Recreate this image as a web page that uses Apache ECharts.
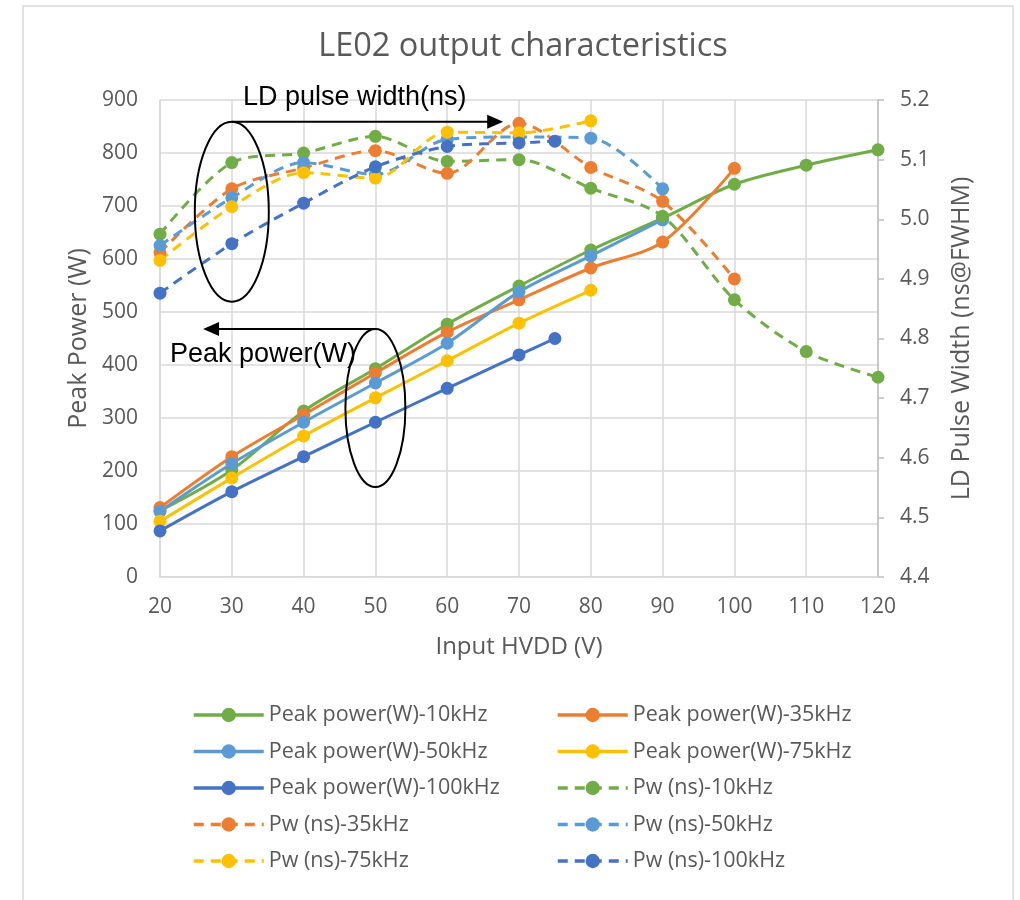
<!DOCTYPE html>
<html>
<head>
<meta charset="utf-8">
<script src="https://cdn.jsdelivr.net/npm/echarts@6/dist/echarts.min.js"></script>
<style>
  html, body { margin: 0; padding: 0; background: #fff; }
  #main { width: 1020px; height: 900px; }
</style>
</head>
<body>
<div id="main"></div>
<script>
// input voltage (V)
const hvdd = [20, 30, 40, 50, 60, 70, 80, 90, 100, 110, 120];
const hvdd100k = [20, 30, 40, 50, 60, 70, 75];

// peak power (W), left axis
const pp10k = [125, 202, 313, 393, 477, 549, 617, 677, 741, 777, 806];
const pp35k = [131, 227, 306, 385, 462, 523, 583, 632, 771];
const pp50k = [124, 214, 292, 366, 441, 538, 606, 674];
const pp75k = [105, 187, 266, 338, 408, 479, 541];
const pp100k = [87, 161, 227, 292, 356, 419, 450];

// pulse width (ns@FWHM), right axis
const pw10k = [4.975, 5.095, 5.111, 5.139, 5.097, 5.100, 5.052, 5.005, 4.865, 4.778, 4.735];
const pw35k = [4.944, 5.051, 5.086, 5.115, 5.077, 5.161, 5.087, 5.030, 4.900];
const pw50k = [4.956, 5.036, 5.095, 5.075, 5.134, 5.138, 5.136, 5.051];
const pw75k = [4.931, 5.021, 5.078, 5.069, 5.146, 5.145, 5.165];
const pw100k = [4.876, 4.959, 5.027, 5.088, 5.122, 5.128, 5.131];

const leftTicks = [0, 900, 100];
const rightTicks = [4.4, 5.2, 0.1];

const GREEN = '#70AD47', ORANGE = '#ED7D31', LBLUE = '#5B9BD5', YELLOW = '#FFC000', DBLUE = '#4472C4';
const FONT = '"Open Sans", sans-serif';
const GREY = '#595959';

function pairs (xs, ys) {
  return ys.map((v, i) => [xs[i], v])
}

function mk (name, xs, ys, color, dashed) {
  return {
    name: name,
    type: 'line',
    yAxisIndex: dashed ? 1 : 0,
    smooth: 0.3,
    symbol: 'circle',
    symbolSize: 13,
    data: pairs(xs, ys),
    lineStyle: { width: 3, color: color, type: dashed ? [10, 7] : 'solid' },
    itemStyle: { color: color },
    emphasis: { disabled: true }
  }
}

const series = [
  mk('Peak power(W)-10kHz', hvdd, pp10k, GREEN, false),
  mk('Peak power(W)-35kHz', hvdd, pp35k, ORANGE, false),
  mk('Peak power(W)-50kHz', hvdd, pp50k, LBLUE, false),
  mk('Peak power(W)-75kHz', hvdd, pp75k, YELLOW, false),
  mk('Peak power(W)-100kHz', hvdd100k, pp100k, DBLUE, false),
  mk('Pw (ns)-10kHz', hvdd, pw10k, GREEN, true),
  mk('Pw (ns)-35kHz', hvdd, pw35k, ORANGE, true),
  mk('Pw (ns)-50kHz', hvdd, pw50k, LBLUE, true),
  mk('Pw (ns)-75kHz', hvdd, pw75k, YELLOW, true),
  mk('Pw (ns)-100kHz', hvdd100k, pw100k, DBLUE, true)
];

const names = series.map(s => s.name);
const legendBase = {
  orient: 'vertical',
  top: 699,
  itemWidth: 70,
  itemHeight: 18,
  itemGap: 14.5,
  lineStyle: { width: 3.5 },
  textStyle: { fontFamily: FONT, fontSize: 21.5, color: GREY },
  selectedMode: false
};

const chart = echarts.init(document.getElementById('main'));
chart.setOption({
  backgroundColor: '#fff',
  animation: false,
  title: {
    text: 'LE02 output characteristics',
    left: 518,
    textAlign: 'center',
    top: 25,
    textStyle: { fontFamily: FONT, fontSize: 32.5, fontWeight: 'normal', color: GREY }
  },
  legend: [
    Object.assign({ left: 187, data: names.filter((n, i) => i % 2 === 0) }, legendBase),
    Object.assign({ left: 551, data: names.filter((n, i) => i % 2 === 1) }, legendBase)
  ],
  grid: { left: 160, right: 142, top: 100, bottom: 323 },
  xAxis: {
    type: 'value',
    min: 20,
    max: 120,
    interval: 10,
    name: 'Input HVDD (V)',
    nameLocation: 'middle',
    nameGap: 58,
    nameTextStyle: { fontFamily: FONT, fontSize: 24, color: GREY },
    axisLine: { lineStyle: { color: '#d9d9d9', width: 1.5 } },
    axisTick: { show: false },
    axisLabel: { margin: 20, fontFamily: FONT, fontSize: 21, color: GREY },
    splitLine: { show: true, lineStyle: { color: '#d9d9d9', width: 1.5 } }
  },
  yAxis: [{
    type: 'value',
    min: leftTicks[0],
    max: leftTicks[1],
    interval: leftTicks[2],
    name: 'Peak Power (W)',
    nameLocation: 'middle',
    nameGap: 69,
    nameTextStyle: { fontFamily: FONT, fontSize: 25, color: GREY },
    axisLine: { show: true, lineStyle: { color: '#d9d9d9', width: 1.5 } },
    axisTick: { show: false },
    axisLabel: { margin: 22, fontFamily: FONT, fontSize: 21, color: GREY },
    splitLine: { show: true, lineStyle: { color: '#d9d9d9', width: 1.5 } }
  }, {
    type: 'value',
    min: rightTicks[0],
    max: rightTicks[1],
    interval: rightTicks[2],
    name: 'LD Pulse Width (ns@FWHM)',
    nameLocation: 'middle',
    nameGap: 71,
    nameRotate: 90,
    nameTextStyle: { fontFamily: FONT, fontSize: 25, color: GREY },
    axisLine: { show: true, lineStyle: { color: '#bfbfbf', width: 1.5 } },
    axisTick: { show: true, length: 6, lineStyle: { color: '#bfbfbf', width: 1.5 } },
    axisLabel: { margin: 22, fontFamily: FONT, fontSize: 21, color: GREY, formatter: v => v.toFixed(1) },
    splitLine: { show: false }
  }],
  series: series
});

// annotations: ellipses + arrows, anchored to data coordinates
function px (x, y) {
  return chart.convertToPixel({ xAxisIndex: 0, yAxisIndex: 0 }, [x, y])
}
const e1 = px(30, 689);
const e2 = px(50, 319);
const a1 = px(67.8, 0)[0];
const a2 = px(26, 0)[0];
const black = { stroke: '#000', lineWidth: 2, fill: null };
const annFont = '27px "Liberation Sans", Arial, sans-serif';

chart.setOption({
  graphic: [
    { type: 'rect', shape: { x: 23, y: 6, width: 990, height: 900 }, style: { stroke: '#d9d9d9', lineWidth: 1.5, fill: null }, silent: true },
    { type: 'ellipse', shape: { cx: e1[0], cy: e1[1], rx: 37, ry: 90 }, style: black, z: 100 },
    { type: 'line', shape: { x1: e1[0], y1: e1[1] - 90, x2: a1 - 14, y2: e1[1] - 90 }, style: black, z: 100 },
    { type: 'polygon', shape: { points: [[a1, e1[1] - 90], [a1 - 16, e1[1] - 97], [a1 - 16, e1[1] - 83]] }, style: { fill: '#000' }, z: 100 },
    { type: 'text', x: 243, y: e1[1] - 114, style: { text: 'LD pulse width(ns)', font: annFont, fill: '#000', textVerticalAlign: 'middle' }, z: 100 },
    { type: 'ellipse', shape: { cx: e2[0], cy: e2[1], rx: 30, ry: 79 }, style: black, z: 100 },
    { type: 'line', shape: { x1: e2[0], y1: e2[1] - 79, x2: a2 + 14, y2: e2[1] - 79 }, style: black, z: 100 },
    { type: 'polygon', shape: { points: [[a2, e2[1] - 79], [a2 + 16, e2[1] - 86], [a2 + 16, e2[1] - 72]] }, style: { fill: '#000' }, z: 100 },
    { type: 'text', x: 170, y: e2[1] - 53, style: { text: 'Peak power(W)', font: annFont, fill: '#000', textVerticalAlign: 'middle' }, z: 100 }
  ]
});
</script>
</body>
</html>
